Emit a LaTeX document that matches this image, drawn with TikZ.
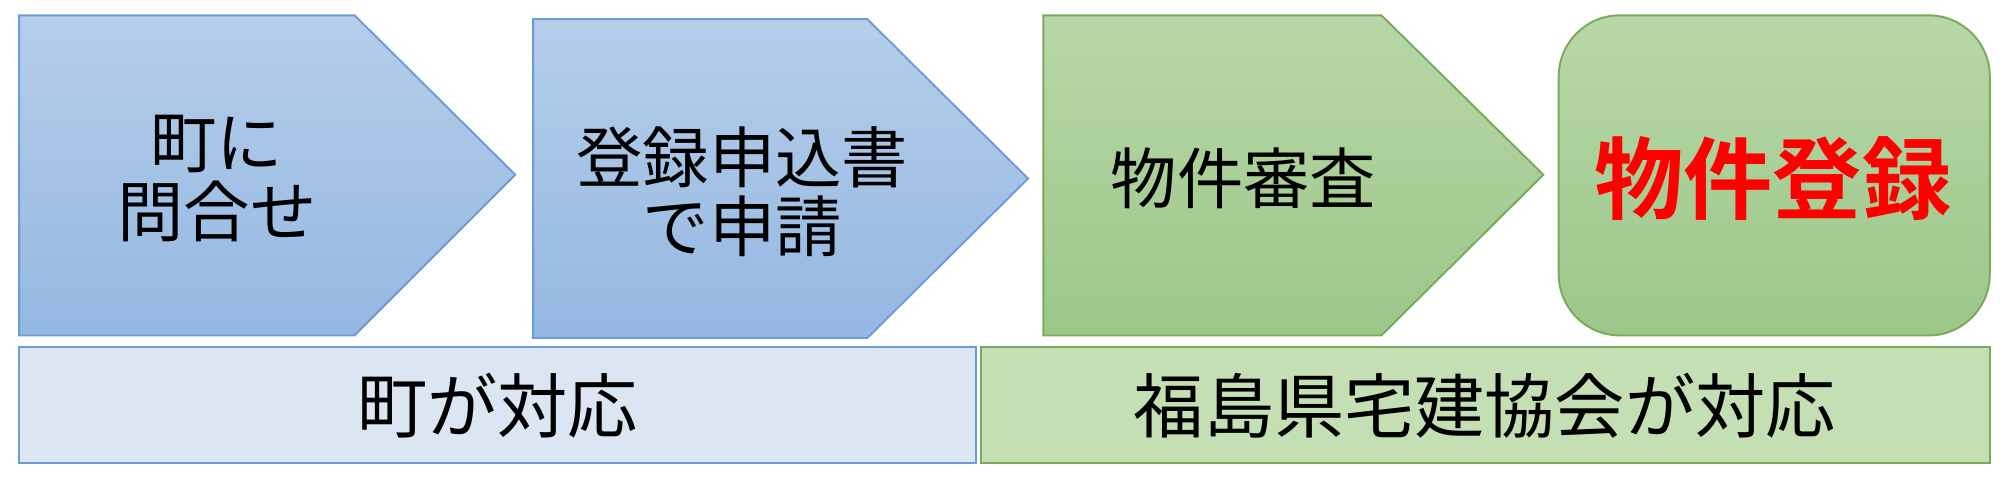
\documentclass[tikz,border=0pt]{standalone}
\usepackage{fontspec}
\setmainfont{Noto Sans CJK JP}
\newfontfamily\jpb{Noto Sans CJK JP Bold}
\begin{document}
\begin{tikzpicture}[x=1pt,y=-1pt,
  bluebox/.style={draw=bordblue,line width=1.5pt,top color=topblue,bottom color=botblue},
  greenbox/.style={draw=bordgreen,line width=1.5pt,top color=topgreen,bottom color=botgreen},
  lbl/.style={font=\fontsize{52}{54}\selectfont,align=center,text=black,inner sep=0pt}]
\definecolor{topblue}{HTML}{B5CEEA}
\definecolor{botblue}{HTML}{94B7E2}
\definecolor{bordblue}{HTML}{6C9CD4}
\definecolor{topgreen}{HTML}{B8D7A8}
\definecolor{botgreen}{HTML}{9BC788}
\definecolor{bordgreen}{HTML}{79A95A}
\definecolor{lightblue}{HTML}{DCE6F2}
\definecolor{lightgreen}{HTML}{C5DFB4}
\useasboundingbox[fill=white] (0,0) rectangle (1568,376);
\path[bluebox] (15,12) -- (278,12) -- (404,137) -- (278,263) -- (15,263) -- cycle;
\path[bluebox] (418,15) -- (680,15) -- (806,140) -- (680,265) -- (418,265) -- cycle;
\path[greenbox] (818,12) -- (1083,12) -- (1210,137) -- (1083,263) -- (818,263) -- cycle;
\path[greenbox,rounded corners=48pt] (1222,12) rectangle (1560,263);
\node[lbl] (a) at (170,140) {町に\\問合せ};
\node[lbl] (b) at (582,150) {登録申込書\\で申請};
\node[lbl] (c) at (975,140) {物件審査};
\node[lbl,font=\jpb\fontsize{70}{72}\selectfont,text=red] (d) at (1390,140) {物件登録};
\draw[draw=bordblue,line width=1.5pt,fill=lightblue] (15,272) rectangle (765,363);
\draw[draw=bordgreen,line width=1.5pt,fill=lightgreen] (769,272) rectangle (1560,363);
\node[lbl,font=\fontsize{55}{58}\selectfont] (e) at (390,318) {町が対応};
\node[lbl,font=\fontsize{55}{58}\selectfont] (f) at (1164,318) {福島県宅建協会が対応};
\end{tikzpicture}
\end{document}
